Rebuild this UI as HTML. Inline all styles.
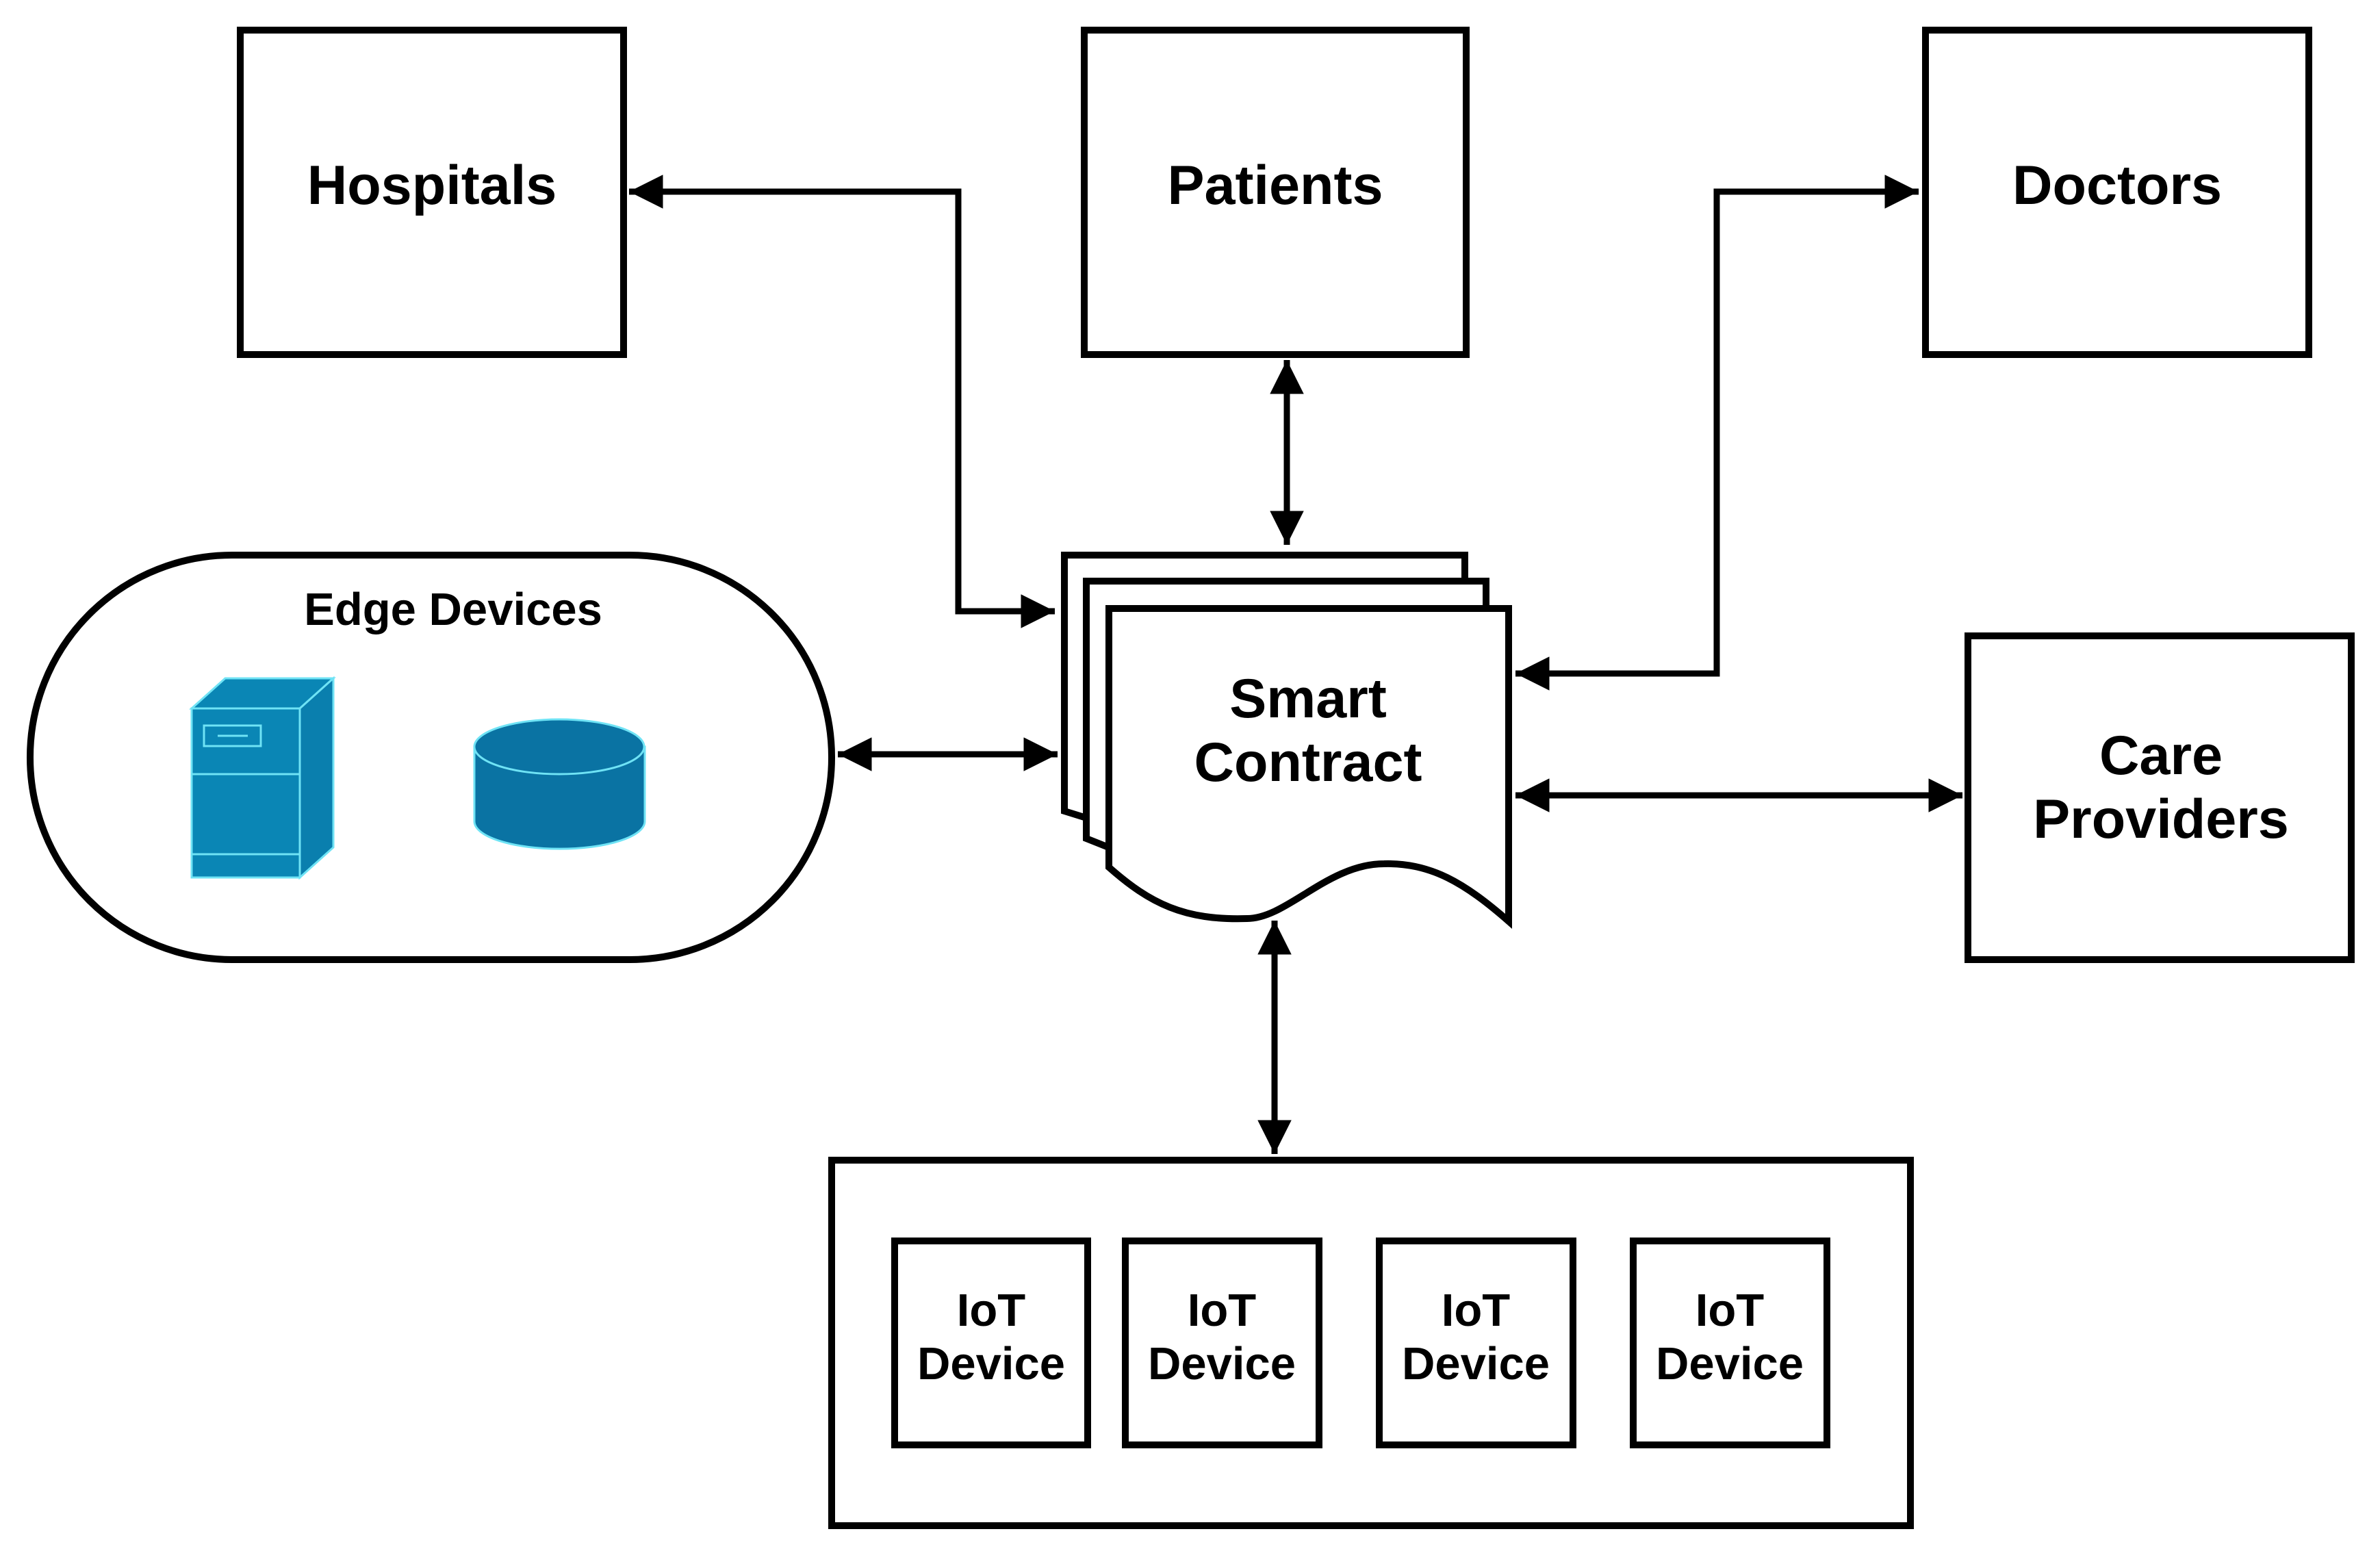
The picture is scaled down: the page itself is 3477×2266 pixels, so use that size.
<!DOCTYPE html>
<html><head><meta charset="utf-8"><style>
html,body{margin:0;padding:0;background:#fff;}
svg{display:block;}
text{font-family:"Liberation Sans",sans-serif;font-weight:bold;fill:#000;text-anchor:middle;}
</style></head><body>
<svg width="3477" height="2266" viewBox="0 0 3477 2266" xmlns="http://www.w3.org/2000/svg">
<defs>
<marker id="a" viewBox="0 0 10 10" refX="10" refY="5" markerWidth="7" markerHeight="5.5" markerUnits="strokeWidth" orient="auto-start-reverse">
<path d="M0,0 L10,5 L0,10 z" fill="#000"/></marker>
</defs>
<g fill="#fff" stroke="#000" stroke-width="10">
<rect x="351" y="44" width="560" height="474"/>
<rect x="1584" y="44" width="558" height="474"/>
<rect x="2813" y="44" width="560" height="474"/>
<rect x="2875" y="929" width="560" height="473"/>
<rect x="44" y="811" width="1171" height="591" rx="295" ry="295"/>
<rect x="1215" y="1695" width="1576" height="534"/>
<rect x="1307" y="1813" width="282" height="298"/>
<rect x="1644" y="1813" width="283" height="298"/>
<rect x="2015" y="1813" width="283" height="298"/>
<rect x="2386" y="1813" width="283" height="298"/>
<path d="M1700,1230 L1555,1185 L1555,811 L2140,811 L2140,1100"/>
<path d="M1700,1270 L1587,1225 L1587,849 L2171,849 L2171,1100"/>
<path d="M1620,1267 L1620,889 L2204,889 L2204,1346 C2140,1290 2090,1260 2022,1262 C1940,1262 1880,1342 1822,1342 C1730,1345 1680,1320 1620,1267z"/>
</g>
<g fill="none" stroke="#000" stroke-width="9">
<path d="M919,280 L1400,280 L1400,893 L1541,893" marker-start="url(#a)" marker-end="url(#a)"/>
<path d="M1880,526 L1880,796" marker-start="url(#a)" marker-end="url(#a)"/>
<path d="M2214,984 L2508,984 L2508,280 L2803,280" marker-start="url(#a)" marker-end="url(#a)"/>
<path d="M2214,1162 L2867,1162" marker-start="url(#a)" marker-end="url(#a)"/>
<path d="M1224,1102 L1545,1102" marker-start="url(#a)" marker-end="url(#a)"/>
<path d="M1862,1345 L1862,1686" marker-start="url(#a)" marker-end="url(#a)"/>
</g>
<g stroke="#6fe3f5" stroke-width="3">
<path d="M280,1035 L329,991 L487,991 L438,1035z" fill="#0a86b5"/>
<path d="M438,1035 L487,991 L487,1238 L438,1282z" fill="#0a7fae"/>
<rect x="280" y="1035" width="158" height="247" fill="#0a86b5"/>
<line x1="280" y1="1131" x2="438" y2="1131"/>
<line x1="280" y1="1248" x2="438" y2="1248"/>
<rect x="298" y="1060" width="83" height="30" fill="none"/>
<line x1="318" y1="1075" x2="362" y2="1075"/>
</g>
<g stroke="#6fe3f5" stroke-width="3">
<path d="M693,1091 L693,1200 A124,40 0 0 0 942,1200 L942,1091z" fill="#0a73a3"/>
<ellipse cx="817" cy="1091" rx="124" ry="40" fill="#0a73a3"/>
</g>
<text x="631" y="298" font-size="81">Hospitals</text>
<text x="1863" y="298" font-size="81">Patients</text>
<text x="3093" y="298" font-size="81">Doctors</text>
<text x="3157" y="1131" font-size="81">Care</text>
<text x="3157" y="1224" font-size="81">Providers</text>
<text x="662" y="913" font-size="67">Edge Devices</text>
<text x="1911" y="1048" font-size="81">Smart</text>
<text x="1911" y="1141" font-size="81">Contract</text>
<g font-size="67">
<text x="1448" y="1937">IoT</text><text x="1448" y="2015">Device</text>
<text x="1785" y="1937">IoT</text><text x="1785" y="2015">Device</text>
<text x="2156" y="1937">IoT</text><text x="2156" y="2015">Device</text>
<text x="2527" y="1937">IoT</text><text x="2527" y="2015">Device</text>
</g>
</svg>
</body></html>
